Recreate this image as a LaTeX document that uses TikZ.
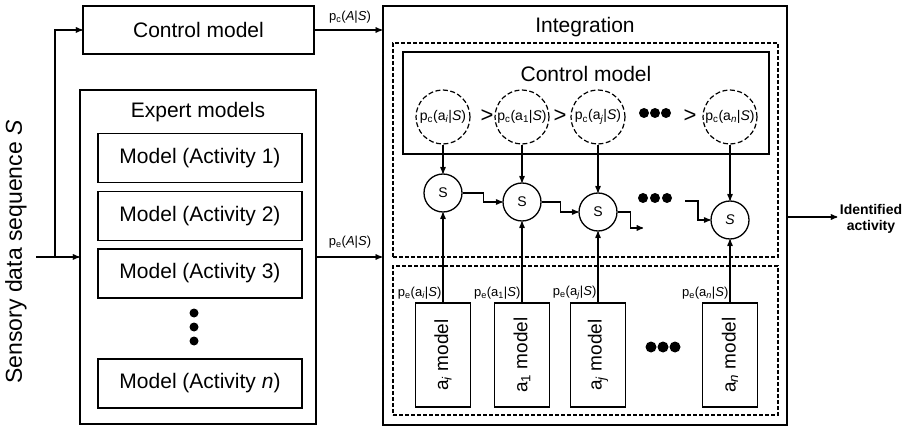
\documentclass[tikz,border=0pt]{standalone}
\usepackage{fontspec}
\setmainfont{Liberation Sans}
\usetikzlibrary{arrows}

\newcommand{\fsz}[1]{\fontsize{#1}{#1}\selectfont}

\begin{document}
\begin{tikzpicture}[x=1pt,y=-1pt,->,line width=1.3pt,>=stealth']
    \tikzstyle{box}=[draw, rectangle, line width=1.6pt, inner sep=0pt]
    \tikzstyle{dbox}=[draw, rectangle, dash pattern=on 4pt off 2pt, line width=1.3pt, inner sep=0pt]
    \tikzstyle{big}=[font=\fsz{21}]
    \tikzstyle{act}=[style=box, big, minimum width=204pt, minimum height=49pt]
    \tikzstyle{mdl}=[style=box, rotate=90, minimum width=104pt, minimum height=55pt, font=\fsz{19}]
    \tikzstyle{pc}=[draw, circle, dash pattern=on 5pt off 2.5pt, line width=1.2pt, minimum size=54pt, inner sep=0pt, font=\fsz{14}]
    \tikzstyle{sel}=[draw, circle, minimum size=38pt, inner sep=0pt, font=\fsz{14}]
    \tikzstyle{lbl}=[font=\fsz{13}, inner sep=1pt]
    \tikzstyle{gt}=[font=\fsz{22}, inner sep=0pt]
    \tikzstyle{dot}=[fill, circle, inner sep=0pt, minimum size=10pt]

    \useasboundingbox (0,0) rectangle (909,427);

    % input side
    \node[rotate=90, font=\fsz{23}] (sens) at (16,252) {Sensory data sequence \textit{S}};
    \coordinate (src) at (36,257);
    \coordinate (split) at (55,257);

    \node[box, big, minimum width=231pt, minimum height=48pt] (ctrl) at (198.5,30) {Control model};

    \node[box, minimum width=236pt, minimum height=334pt] (expert) at (198,257) {};
    \node[big] (expertt) at (198,112) {Expert models};
    \node[act] (act1) at (200,158)   {Model (Activity 1)};
    \node[act] (act2) at (200,216)   {Model (Activity 2)};
    \node[act] (act3) at (200,273.5) {Model (Activity 3)};
    \node[act] (actn) at (200,383.5) {Model (Activity \textit{n})};
    \foreach \k/\y in {1/313,2/327,3/341}
        \node[dot, minimum size=9pt] (edot\k) at (194,\y) {};

    % integration
    \node[box, line width=2.2pt, minimum width=404pt, minimum height=419pt] (integ) at (585,215.5) {};
    \node[big] (integt) at (585,27) {Integration};
    \node[dbox, minimum width=385pt, minimum height=214pt] (upper) at (585.5,150) {};
    \node[box, minimum width=366pt, minimum height=102pt] (cinner) at (586,103) {};
    \node[big] (cinnert) at (586,74) {Control model};
    \node[dbox, minimum width=385pt, minimum height=149pt] (lower) at (585.5,340.5) {};

    \node[pc] (pi) at (443,117) {p\textsubscript{c}(a\textsubscript{\textit{i}}|\textit{S})};
    \node[pc] (p1) at (522,117) {p\textsubscript{c}(a\textsubscript{1}|\textit{S})};
    \node[pc] (pj) at (598,117) {p\textsubscript{c}(a\textsubscript{\textit{j}}|\textit{S})};
    \node[pc] (pn) at (730,117) {p\textsubscript{c}(a\textsubscript{\textit{n}}|\textit{S})};
    \node[gt] (g1) at (487,116) {>};
    \node[gt] (g2) at (560,116) {>};
    \node[gt] (g3) at (690,116) {>};
    \foreach \k/\x in {1/644,2/655,3/666}
        \node[dot] (cdot\k) at (\x,113) {};

    \node[sel] (si) at (443,193) {S};
    \node[sel] (s1) at (522,202) {S};
    \node[sel] (sj) at (598,212) {S};
    \node[sel] (sn) at (730,220) {\textit{S}};
    \foreach \k/\x in {1/643,2/655,3/667}
        \node[dot] (sdot\k) at (\x,198) {};
    \coordinate (sjout) at (643,228);
    \coordinate (snin) at (685,201);

    \node[mdl] (mi) at (443,355) {a\textsubscript{\textit{i}} model};
    \node[mdl] (m1) at (522,355) {a\textsubscript{1} model};
    \node[mdl] (mj) at (598,355) {a\textsubscript{\textit{j}} model};
    \node[mdl] (mn) at (730,355) {a\textsubscript{\textit{n}} model};
    \foreach \k/\x in {1/651,2/663,3/675}
        \node[dot, minimum size=11pt] (mdot\k) at (\x,347) {};

    \node[lbl, anchor=east] (li) at (443,293) {p\textsubscript{e}(a\textsubscript{\textit{i}}|\textit{S})};
    \node[lbl, anchor=east] (l1) at (522,293) {p\textsubscript{e}(a\textsubscript{1}|\textit{S})};
    \node[lbl, anchor=east] (lj) at (598,293) {p\textsubscript{e}(a\textsubscript{\textit{j}}|\textit{S})};
    \node[lbl, anchor=east] (ln) at (730,293) {p\textsubscript{e}(a\textsubscript{\textit{n}}|\textit{S})};

    \node[lbl] (lpc) at (350,17) {p\textsubscript{c}(\textit{A}|\textit{S})};
    \node[lbl] (lpe) at (350,242) {p\textsubscript{e}(\textit{A}|\textit{S})};

    \node[font=\bfseries\fsz{14}, align=center, inner sep=2pt, text depth=0pt] (ident) at (871,217) {Identified\\[2pt]activity};

    % connectors
    \draw (src) -- (expert.west);
    \draw (split) |- (ctrl.west);
    \draw (ctrl.east) -- (integ.west |- ctrl.east);
    \draw (expert.east) -- (integ.west |- expert.east);
    \draw (integ.east |- ident.west) -- (ident.west);

    \path
     (pi) edge (si)
     (p1) edge (s1)
     (pj) edge (sj)
     (pn) edge (sn)
     (mi) edge (si)
     (m1) edge (s1)
     (mj) edge (sj)
     (mn) edge (sn)
     ;
    \draw (si.east) -- ++(21,0) |- (s1.west);
    \draw (s1.east) -- ++(19,0) |- (sj.west);
    \draw (sj.east) -- ++(13,0) |- (sjout);
    \draw (snin) -- ++(13,0) |- (sn.west);
\end{tikzpicture}
\end{document}
